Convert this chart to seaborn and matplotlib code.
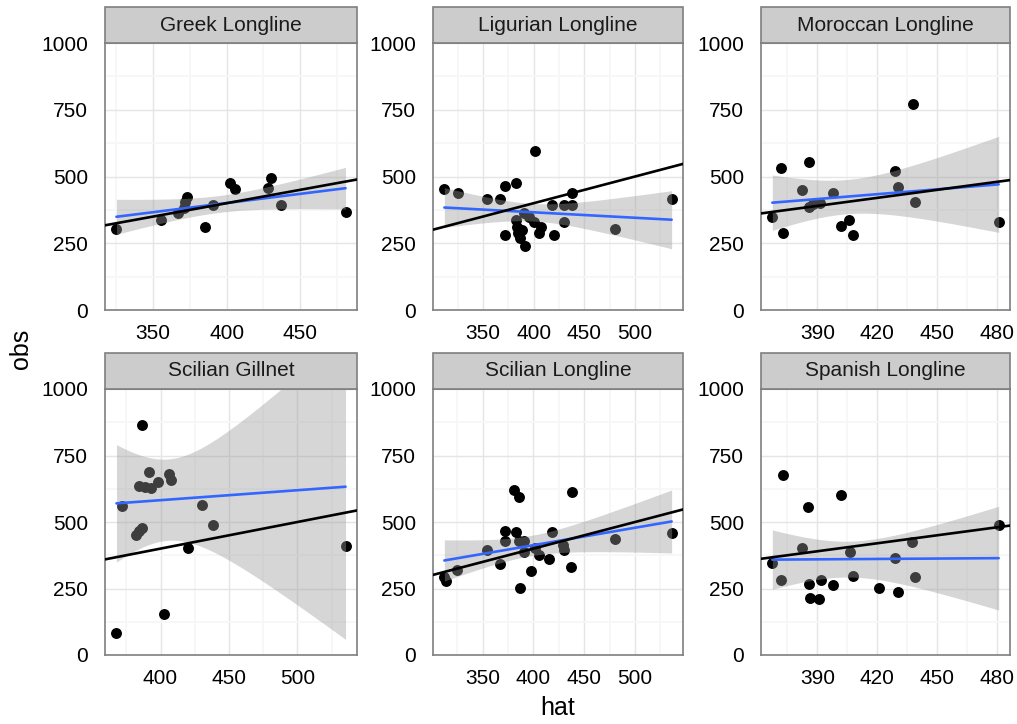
import math
import numpy as np
import pandas as pd
import matplotlib
matplotlib.use("Agg")
import matplotlib.pyplot as plt
from matplotlib.patches import Rectangle
from matplotlib.ticker import MultipleLocator
import seaborn as sns

# Observed vs. predicted values for each fleet
fleets = ["Greek Longline", "Ligurian Longline", "Moroccan Longline",
          "Scilian Gillnet", "Scilian Longline", "Spanish Longline"]

greek_hat = [325, 355, 367, 371, 372, 373, 385, 391, 402, 406, 428, 430, 437, 481]
greek_obs = [302, 337, 362, 381, 406, 425, 312, 394, 475, 452, 456, 494, 394, 366]

ligurian_hat = [312, 325, 354, 367, 372, 383, 372, 384, 385, 387, 391, 383, 390, 395,
                400, 407, 405, 389, 401, 418, 420, 430, 430, 438, 438, 480, 536]
ligurian_obs = [452, 440, 416, 416, 465, 477, 281, 312, 287, 269, 241, 337, 362, 350,
                331, 312, 287, 300, 597, 394, 281, 331, 394, 437, 394, 302, 415]

moroccan_hat = [367.4, 372.0, 373.0, 382.4, 385.7, 385.7, 387.8, 391.2, 397.8, 402.0,
                406.0, 407.8, 429.0, 430.2, 437.7, 438.8, 480.9]
moroccan_obs = [347, 531, 287, 450, 556, 387, 397, 400, 437, 315,
                337, 281, 519, 462, 771, 406, 331]

# one gillnet year lies above the 0-1000 window and is clipped from view
gillnet_hat = [367.8, 372.2, 386.5, 391.4, 384.0, 389.0, 393.0, 398.0, 406.1, 407.9,
               382.0, 384.5, 386.5, 402.2, 420.4, 430.0, 438.6, 535.1, 424.0]
gillnet_obs = [84, 562, 863, 688, 637, 630, 627, 649, 681, 659,
               452, 468, 477, 153, 401, 565, 489, 411, 1600]

sicilian_hat = [312.3, 314.0, 324.8, 354.3, 367.4, 371.6, 372.3, 381.0, 385.4, 382.7,
                385.4, 391.0, 391.0, 386.3, 397.8, 401.7, 405.0, 415.5, 418.0, 429.0,
                429.6, 437.8, 437.2, 480.3, 536.0]
sicilian_obs = [292, 280, 318, 395, 342, 468, 427, 619, 593, 464,
                430, 427, 389, 251, 317, 401, 376, 360, 464, 414,
                395, 612, 330, 437, 460]

spanish_hat = [367.4, 372.0, 372.9, 382.4, 385.3, 385.7, 386.2, 390.7, 391.7, 397.8,
               402.0, 406.1, 407.8, 421.0, 429.0, 430.5, 437.2, 438.8, 480.9]
spanish_obs = [345, 282, 675, 401, 558, 267, 213, 209, 282, 263,
               602, 389, 297, 253, 366, 238, 423, 295, 489]

hats = [greek_hat, ligurian_hat, moroccan_hat, gillnet_hat, sicilian_hat, spanish_hat]
obss = [greek_obs, ligurian_obs, moroccan_obs, gillnet_obs, sicilian_obs, spanish_obs]

x_tick_step = {"Greek Longline": 50, "Ligurian Longline": 50, "Moroccan Longline": 30,
               "Scilian Gillnet": 50, "Scilian Longline": 50, "Spanish Longline": 30}
y_ticks = [0, 250, 500, 750, 1000]

df = pd.concat(
    [pd.DataFrame({"fleet": f, "hat": h, "obs": o}) for f, h, o in zip(fleets, hats, obss)],
    ignore_index=True,
)

sns.set_style("white")
plt.rcParams["font.family"] = ["Liberation Sans", "DejaVu Sans"]


def t_quantile(p, dof):
    """Quantile of Student's t distribution by integrating its density."""
    c = math.gamma((dof + 1) / 2) / (math.sqrt(dof * math.pi) * math.gamma(dof / 2))
    t = np.linspace(0, 20, 200001)
    pdf = c * (1 + t ** 2 / dof) ** (-(dof + 1) / 2)
    cdf = 0.5 + np.concatenate([[0], np.cumsum((pdf[1:] + pdf[:-1]) / 2 * np.diff(t))])
    return float(np.interp(p, cdf, t))


g = sns.FacetGrid(df, col="fleet", col_order=fleets, col_wrap=3,
                  sharex=False, sharey=False, despine=False, height=3.5, aspect=1)
g.map_dataframe(sns.scatterplot, x="hat", y="obs", color="black", s=62,
                linewidth=0, zorder=2)

fig = g.figure
fig.set_size_inches(10.17, 7.24)
W, H = 1017, 724
cols_px = [(105, 357), (433, 683), (761, 1010)]
rows_px = [(43, 310), (389, 655)]
strip_px = 36

for i, (ax, fleet) in enumerate(zip(g.axes.flat, fleets)):
    r, c = divmod(i, 3)
    (x0, x1), (y0, y1) = cols_px[c], rows_px[r]
    ax.set_position([x0 / W, 1 - y1 / H, (x1 - x0) / W, (y1 - y0) / H])

    sub = df[df["fleet"] == fleet]
    x = sub["hat"].to_numpy(float)
    y = sub["obs"].to_numpy(float)
    n = len(x)

    # linear fit with 95% confidence band
    slope, intercept = np.polyfit(x, y, 1)
    resid = y - (slope * x + intercept)
    s = math.sqrt(np.sum(resid ** 2) / (n - 2))
    sxx = np.sum((x - x.mean()) ** 2)
    xs = np.linspace(x.min(), x.max(), 80)
    fit = slope * xs + intercept
    half = t_quantile(0.975, n - 2) * s * np.sqrt(1 / n + (xs - x.mean()) ** 2 / sxx)
    ax.fill_between(xs, fit - half, fit + half, color="#999999", alpha=0.4,
                    linewidth=0, zorder=3)
    ax.plot(xs, fit, color="#3366FF", linewidth=1.9, zorder=4)
    ax.axline((0, 0), slope=1, color="black", linewidth=1.9, zorder=5)

    pad = 0.05 * (x.max() - x.min())
    ax.set_xlim(x.min() - pad, x.max() + pad)
    ax.set_ylim(0, 1000)

    step = x_tick_step[fleet]
    ax.xaxis.set_major_locator(MultipleLocator(step))
    ax.xaxis.set_minor_locator(MultipleLocator(step / 2))
    ax.set_yticks(y_ticks)
    ax.yaxis.set_minor_locator(MultipleLocator(125))
    ax.set_axisbelow(True)
    ax.grid(which="minor", color="#F7F7F7", linewidth=1.3)
    ax.grid(which="major", color="#E5E5E5", linewidth=1.0)
    ax.tick_params(which="major", direction="out", length=7, width=1.3,
                   color="black", labelcolor="black", labelsize=15)
    ax.tick_params(axis="x", which="major", pad=3)
    ax.tick_params(axis="y", which="major", pad=5)
    ax.tick_params(which="minor", length=0)
    ax.tick_params(labelbottom=True, labelleft=True)
    for sp in ax.spines.values():
        sp.set_color("#7F7F7F")
        sp.set_linewidth(1.2)
    ax.set_title("")
    ax.set_xlabel("")
    ax.set_ylabel("")

    hfrac = strip_px / (y1 - y0)
    ax.add_patch(Rectangle((0, 1), 1, hfrac, transform=ax.transAxes, clip_on=False,
                           facecolor="#CCCCCC", edgecolor="#7F7F7F", linewidth=1.2,
                           zorder=6))
    ax.text(0.5, 1 + hfrac / 2, fleet, transform=ax.transAxes, ha="center",
            va="center", fontsize=15, color="#1A1A1A", zorder=7)

fig.text(21 / W, 1 - 349 / H, "obs", rotation=90, ha="center", va="center",
         fontsize=18, color="black")
fig.text(557.5 / W, 1 - 708 / H, "hat", ha="center", va="center",
         fontsize=18, color="black")

fig.savefig("out.png", dpi=100)
